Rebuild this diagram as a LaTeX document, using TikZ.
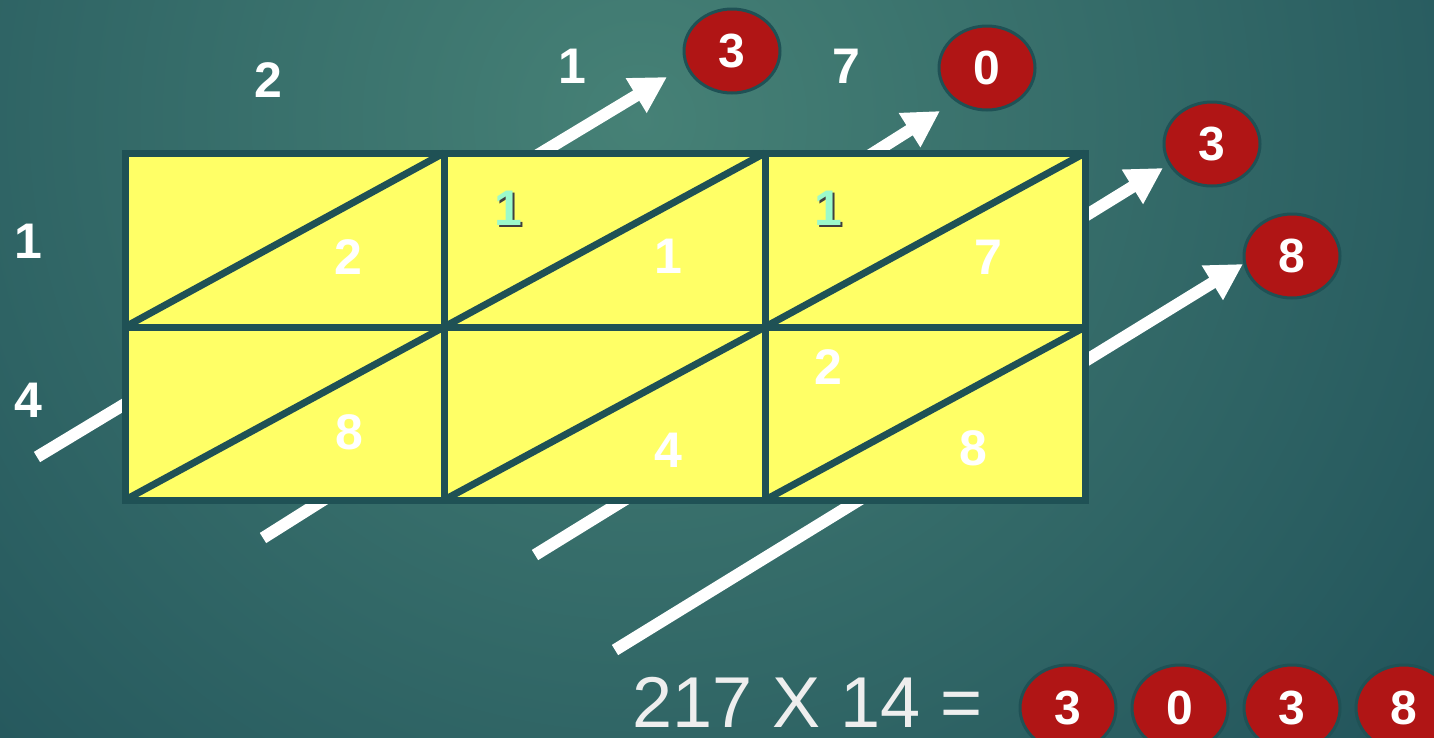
\documentclass[tikz,border=0pt]{standalone}
\usepackage{fontspec}
\setmainfont{Liberation Sans}
\usetikzlibrary{arrows.meta,shapes.geometric}
\definecolor{bgin}{HTML}{468176}
\definecolor{bgout}{HTML}{22545B}
\definecolor{gridline}{HTML}{1F5155}
\definecolor{cellfill}{HTML}{FFFF66}
\definecolor{digitred}{HTML}{B01515}
\definecolor{carrygreen}{HTML}{9CFACB}
\definecolor{eqgrey}{HTML}{EEEEEE}

\begin{document}
\begin{tikzpicture}[x=1pt, y=-1pt,
  digit/.style={text=white, inner sep=0pt, font=\fontsize{50}{50}\selectfont\bfseries},
  carry/.style={text=carrygreen, inner sep=0pt, font=\fontsize{50}{50}\selectfont\bfseries},
  answer/.style={ellipse, draw=gridline, line width=3pt, fill=digitred, minimum width=96pt,
                 minimum height=84pt, inner sep=0pt, text=white, font=\fontsize{48}{48}\selectfont\bfseries},
  diagarrow/.style={draw=white, line width=12pt, -{Triangle[length=36pt, width=38pt]}},
  ]
  \useasboundingbox (0,0) rectangle (1434,737);
  \clip (0,0) rectangle (1434,737);
  \fill[bgout] (0,0) rectangle (1434,737);
  \shade[inner color=bgin, outer color=bgout] (640,120) circle (1000);

  % answer digits
  \node[answer] (r1) at (732,51) {3};
  \node[answer] (r2) at (987,68) {0};
  \node[answer] (r3) at (1212,144) {3};
  \node[answer] (r4) at (1292,256) {8};

  % diagonal sums
  \coordinate (tailA) at (37,457);   \coordinate (tipA) at (667,77);
  \coordinate (tailB) at (263,538);  \coordinate (tipB) at (940,111);
  \coordinate (tailC) at (535,555);  \coordinate (tipC) at (1163,168);
  \coordinate (tailD) at (615,650);  \coordinate (tipD) at (1243,264);
  \draw[diagarrow] (tailA) -- (tipA);
  \draw[diagarrow] (tailB) -- (tipB);
  \draw[diagarrow] (tailC) -- (tipC);
  \draw[diagarrow] (tailD) -- (tipD);

  % lattice
  \fill[cellfill] (125,153) rectangle (1085,500);
  \foreach \xa/\xb in {125/444, 444/765, 765/1085}
    \foreach \ya/\yb in {327/153, 500/327}
      \draw[gridline, line width=7pt] (\xa,\ya) -- (\xb,\yb);
  \draw[gridline, line width=7pt] (125,153) rectangle (1085,500)
    (444,153) -- (444,500) (765,153) -- (765,500) (125,327) -- (1085,327);

  % factors
  \node[digit] (f2) at (268,80) {2};
  \node[digit] (f1) at (572,66) {1};
  \node[digit] (f7) at (846,66) {7};
  \node[digit] (g1) at (28,241) {1};
  \node[digit] (g4) at (28,400) {4};

  % partial products
  \node[digit] (p11) at (348,257) {2};
  \node[digit] (p12) at (668,256) {1};
  \node[digit] (p13) at (988,257) {7};
  \node[digit] (p21) at (349,432) {8};
  \node[digit] (p22) at (668,450) {4};
  \node[digit] (p23t) at (828,367) {2};
  \node[digit] (p23) at (973,448) {8};
  \node[carry, text=black!75] at (510.5,210.5) {1};
  \node[carry] (c12) at (508,208) {1};
  \node[carry, text=black!75] at (830.5,210.5) {1};
  \node[carry] (c13) at (828,208) {1};

  % result
  \node[anchor=base west, inner sep=0pt, text=eqgrey, font=\fontsize{72}{72}\selectfont]
    (eq) at (632,727) {217 X 14 =};
  \node[answer, minimum height=86pt] (s1) at (1068,708) {3};
  \node[answer, minimum height=86pt] (s2) at (1180,708) {0};
  \node[answer, minimum height=86pt] (s3) at (1292,708) {3};
  \node[answer, minimum height=86pt] (s4) at (1404,708) {8};
\end{tikzpicture}
\end{document}
